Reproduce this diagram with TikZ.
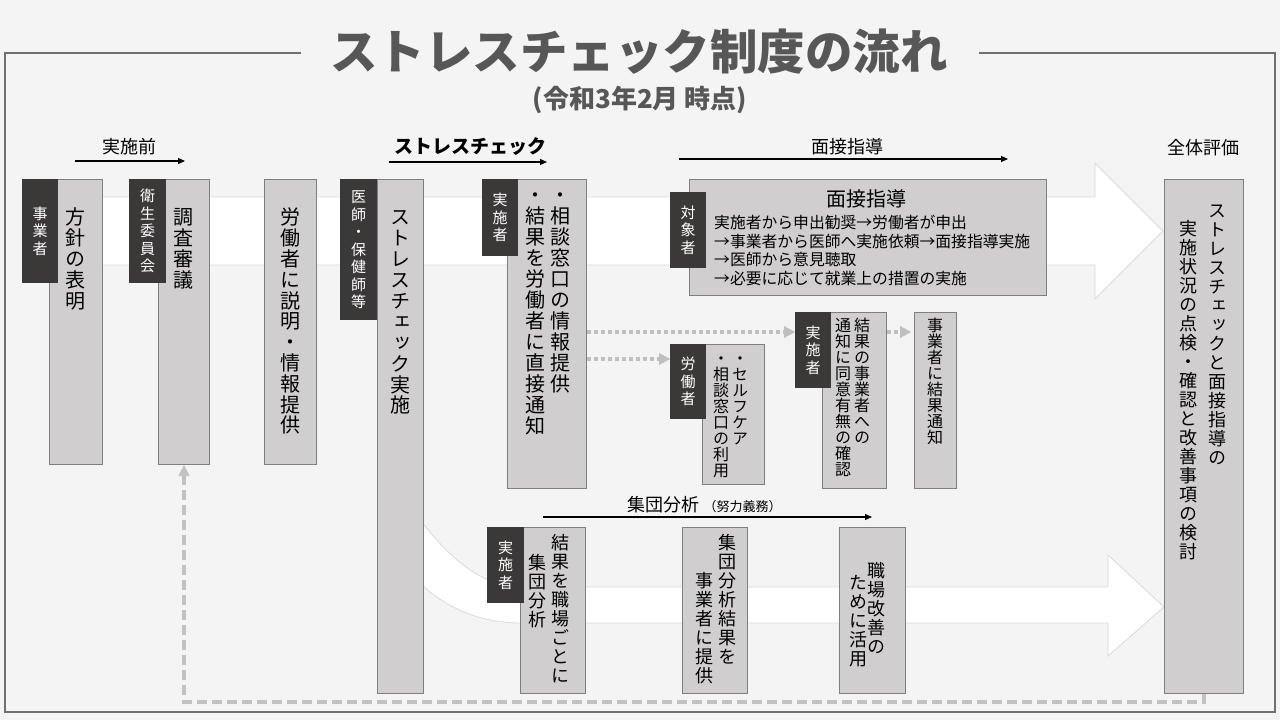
\documentclass[tikz,border=0pt]{standalone}
\usepackage{fontspec}
\setmainfont{Noto Sans CJK JP}
\newfontfamily\tatefont{Noto Sans CJK JP}[RawFeature=+vert]
\usetikzlibrary{arrows.meta}

\definecolor{bg}{HTML}{F4F4F4}
\definecolor{boxfill}{HTML}{D0CECE}
\definecolor{boxline}{HTML}{7F7F7F}
\definecolor{tagfill}{HTML}{3B3838}
\definecolor{bandline}{HTML}{DADADA}
\definecolor{dotgray}{HTML}{BFBFBF}
\definecolor{fbgray}{HTML}{C2C2C2}
\definecolor{titlegray}{HTML}{575757}
\definecolor{framegray}{HTML}{707070}

\makeatletter
\newcommand\tcol[2]{\vtop{\offinterlineskip\tatefont\def\tc@gap{#1}\tc@first#2\tc@stop}}
\def\tc@stop{\tc@stop}
\def\tc@row#1{\hbox to 1em{\hss\vrule height .88em depth .12em width 0pt\relax#1\hss}}
\def\tc@first#1{\tc@row{#1}\tc@loop}
\def\tc@loop#1{\ifx#1\tc@stop\else\kern\tc@gap\tc@row{#1}\expandafter\tc@loop\fi}
\makeatother

\begin{document}
\begin{tikzpicture}[x=1pt, y=-1pt,
  box/.style={draw=boxline, fill=boxfill, line width=1pt, inner sep=0pt, anchor=north west},
  tag/.style={fill=tagfill, text=white, inner sep=0pt, anchor=north west, font=\fontsize{15}{18}\selectfont},
  col/.style={inner sep=0pt, anchor=north, font=\fontsize{20}{24}\selectfont},
  smallcol/.style={col, font=\fontsize{16}{19}\selectfont},
  midcol/.style={col, font=\fontsize{18}{22}\selectfont},
  seclabel/.style={font=\fontsize{18}{22}\selectfont},
  band/.style={fill=white, draw=bandline, line width=0.8pt},
  secarrow/.style={-{Triangle[length=7pt,width=6pt]}, line width=1.1pt},
  dotarrow/.style={-{Triangle[length=11pt,width=12pt,line width=0.1pt]}, draw=dotgray, line width=4pt, dash pattern=on 4pt off 3pt},
  feedback/.style={-{Triangle[length=11pt,width=11pt,line width=0.1pt]}, draw=fbgray, line width=4pt, dash pattern=on 10pt off 5pt}]
\fill[bg] (0,0) rectangle (1280,720);
\useasboundingbox (0,0) rectangle (1280,720);
\draw[framegray, line width=1.2pt] (301,53) -- (5,53) -- (5,712) -- (1275,712) -- (1275,53) -- (979,53);

\node[text=titlegray, font=\fontsize{47.5}{56}\selectfont\bfseries] (title) at (639,52) {ストレスチェック制度の流れ};
\node[text=titlegray, font=\fontsize{26}{30}\selectfont\bfseries] (subtitle) at (640,100) {(令和3年2月 時点)};

\node[seclabel] (pre) at (129,147) {実施前};
\node[seclabel, font=\fontsize{19}{22}\selectfont\bfseries] (sc) at (470,147) {ストレスチェック};
\node[seclabel] (mensetsu-lbl) at (847,147) {面接指導};
\node[seclabel] (zentai) at (1203,148) {全体評価};
\node[seclabel] (shudan) at (663,505) {集団分析};
\node[anchor=base west, inner sep=1pt, font=\fontsize{13}{15}\selectfont] (doryoku) at (shudan.base east) {（努力義務）};
\coordinate (pre-a) at (75,161);   \coordinate (pre-b) at (185,161);
\coordinate (sc-a) at (389,162);   \coordinate (sc-b) at (547,162);
\coordinate (men-a) at (679,159);  \coordinate (men-b) at (1008,159);
\coordinate (shu-a) at (543,517);  \coordinate (shu-b) at (872,517);
\draw[secarrow] (pre-a) -- (pre-b);
\draw[secarrow] (sc-a) -- (sc-b);
\draw[secarrow] (men-a) -- (men-b);
\draw[secarrow] (shu-a) -- (shu-b);

\filldraw[band] (60,197) -- (1095,197) -- (1095,163) -- (1163,231) -- (1095,299) -- (1095,265) -- (60,265) -- cycle;
\filldraw[band] (420,520) .. controls (440,545) and (475,587) .. (520,587) -- (1108,587) -- (1108,555) -- (1164,607) -- (1108,656) -- (1108,623) -- (520,623) .. controls (475,623) and (440,603) .. (420,583) -- cycle;

\node[box, minimum width=53pt, minimum height=285pt] (hyomei) at (49,179) {};
\node[box, minimum width=51pt, minimum height=285pt] (chosa) at (158,179) {};
\node[box, minimum width=52pt, minimum height=285pt] (setsumei) at (264,179) {};
\node[box, minimum width=46pt, minimum height=514pt] (jisshi) at (377,179) {};
\node[box, minimum width=79pt, minimum height=309pt] (tsuchi) at (507,179) {};
\node[box, minimum width=357pt, minimum height=116pt] (mensetsu) at (689,179) {};
\node[box, minimum width=62pt, minimum height=140pt] (selfcare) at (702,344) {};
\node[box, minimum width=64pt, minimum height=176pt] (doui) at (822,312) {};
\node[box, minimum width=42pt, minimum height=176pt] (kekka) at (914,312) {};
\node[box, minimum width=65pt, minimum height=166pt] (bunseki) at (520,527) {};
\node[box, minimum width=65pt, minimum height=166pt] (teikyo) at (682,527) {};
\node[box, minimum width=66pt, minimum height=166pt] (katsuyo) at (839,527) {};
\node[box, minimum width=79pt, minimum height=514pt] (hyoka) at (1164,179) {};

\node[col] (hyomei-t) at (75.5,207) {\tcol{1pt}{方針の表明}};
\node[col] (chosa-t) at (183.5,207) {\tcol{1pt}{調査審議}};
\node[col] (setsumei-t) at (290,207) {\tcol{0.8pt}{労働者に説明・情報提供}};
\node[col] (jisshi-t) at (400,207) {\tcol{0.9pt}{ストレスチェック実施}};
\node[col] (tsuchi-ta) at (560,185) {\tcol{1pt}{・相談窓口の情報提供}};
\node[col] (tsuchi-tb) at (535,185) {\tcol{1pt}{・結果を労働者に直接通知}};
\node[font=\fontsize{20}{24}\selectfont] (mensetsu-title) at (866,199) {面接指導};
\node[anchor=north west, align=left, inner sep=0pt, font=\fontsize{15.8}{18.7}\selectfont] (mensetsu-t) at (714,215) {実施者から申出勧奨→労働者が申出\\→事業者から医師へ実施依頼→面接指導実施\\→医師から意見聴取\\→必要に応じて就業上の措置の実施};
\node[smallcol] (selfcare-ta) at (740,350) {\tcol{0pt}{・セルフケア}};
\node[smallcol] (selfcare-tb) at (721,350) {\tcol{0pt}{・相談窓口の利用}};
\node[smallcol] (doui-ta) at (862,317) {\tcol{0pt}{結果の事業者への}};
\node[smallcol] (doui-tb) at (843,317) {\tcol{0pt}{通知に同意有無の確認}};
\node[smallcol] (kekka-t) at (935,317) {\tcol{0pt}{事業者に結果通知}};
\node[midcol] (bunseki-ta) at (560,533) {\tcol{1pt}{結果を職場ごとに}};
\node[midcol] (bunseki-tb) at (537,553) {\tcol{1pt}{集団分析}};
\node[midcol] (teikyo-ta) at (727,533) {\tcol{1pt}{集団分析結果を}};
\node[midcol] (teikyo-tb) at (704,571) {\tcol{1pt}{事業者に提供}};
\node[midcol] (katsuyo-ta) at (876,561) {\tcol{1pt}{職場改善の}};
\node[midcol] (katsuyo-tb) at (858,573) {\tcol{1pt}{ために活用}};
\node[midcol] (hyoka-ta) at (1217,201) {\tcol{1pt}{ストレスチェックと面接指導の}};
\node[midcol] (hyoka-tb) at (1188,219) {\tcol{1pt}{実施状況の点検・確認と改善事項の検討}};

\node[tag, minimum width=36pt, minimum height=104pt] (jigyosha-tag) at (22,179) {\tcol{2.5pt}{事業者}};
\node[tag, minimum width=37pt, minimum height=104pt] (eisei-tag) at (129,179) {\tcol{2.5pt}{衛生委員会}};
\node[tag, minimum width=37pt, minimum height=141pt] (ishi-tag) at (340,179) {\tcol{2.5pt}{医師・保健師等}};
\node[tag, minimum width=36pt, minimum height=77pt] (jisshisha-tag) at (482,179) {\tcol{2.5pt}{実施者}};
\node[tag, minimum width=36pt, minimum height=76pt] (taisho-tag) at (670,192) {\tcol{2.5pt}{対象者}};
\node[tag, minimum width=36pt, minimum height=75pt] (rodo-tag) at (670,344) {\tcol{2.5pt}{労働者}};
\node[tag, minimum width=36pt, minimum height=76pt] (jisshisha2-tag) at (795,312) {\tcol{2.5pt}{実施者}};
\node[tag, minimum width=37pt, minimum height=76pt] (jisshisha3-tag) at (487,527) {\tcol{2.5pt}{実施者}};

\coordinate (dot1) at ([yshift=-20pt]jisshisha2-tag.north west);
\coordinate (dot2) at ([yshift=-15pt]rodo-tag.north west);
\coordinate (dot3) at ([xshift=-3pt, yshift=-20pt]kekka.north west);
\draw[dotarrow] (tsuchi.east |- dot1) -- (dot1);
\draw[dotarrow] (tsuchi.east |- dot2) -- (dot2);
\draw[dotarrow] (doui.east |- dot3) -- (dot3);
\draw[feedback] (hyoka.south) -- ++(0,8) -| (chosa.south);
\end{tikzpicture}
\end{document}
